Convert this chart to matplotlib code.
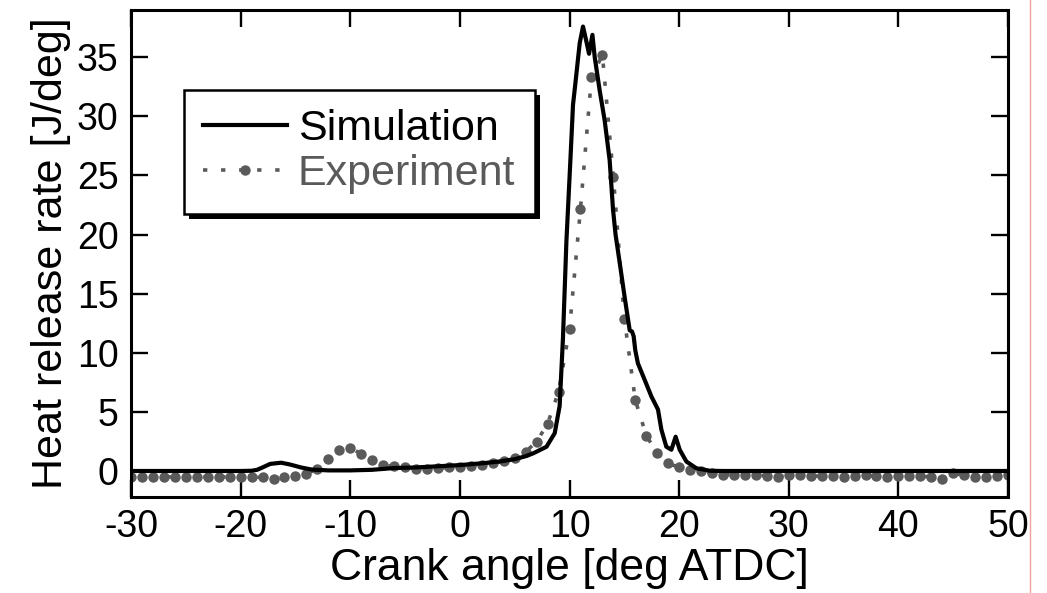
import numpy as np
import matplotlib
matplotlib.use("Agg")
import matplotlib.pyplot as plt
from matplotlib.lines import Line2D
from matplotlib.patches import Rectangle

plt.rcParams['font.family'] = ['Liberation Sans', 'DejaVu Sans']
plt.rcParams['axes.unicode_minus'] = False

# DATA
# simulation trace: crank angle [deg ATDC] vs heat release rate [J/deg]
sim_angle = [-30, -20, -19, -18.5, -18, -17.3, -16.3, -15.5, -14.5, -13.5,
             -12, -10, -8, -6, -4, -2, 0, 2, 3.6, 5, 6, 6.7, 7.9, 8.65,
             9.1, 9.4, 9.72, 10.08, 10.32, 10.5, 10.93, 11.23, 11.5, 11.78,
             12.09, 12.3, 12.75, 13.2, 13.66, 13.97, 14.2, 14.58, 15.03,
             15.49, 15.7, 15.85, 16.0, 16.24, 16.86, 17.47, 18.07, 18.38,
             18.83, 19.29, 19.68, 20.05, 20.66, 21.57, 22.8, 24, 50]
sim_hrr = [0, 0, 0.02, 0.1, 0.3, 0.6, 0.7, 0.55, 0.3, 0.12,
           0.05, 0.05, 0.1, 0.25, 0.3, 0.4, 0.5, 0.65, 0.8, 1.0, 1.25, 1.5, 2.05, 3.2,
           5.5, 11.2, 19.5, 26.3, 31.0, 32.5, 36.2, 37.6, 36.5, 35.3,
           36.9, 35.0, 32.2, 29.7, 26.3, 22.1, 20.0, 17.6, 14.7,
           11.9, 11.8, 11.4, 10.2, 9.1, 7.7, 6.3, 5.2, 3.5,
           2.05, 1.8, 2.9, 1.8, 0.8, 0.23, 0.02, 0, 0]

# experiment: one sample per degree from -30 to 50
exp_angle = list(range(-30, 51))
exp_hrr = [-0.5, -0.5, -0.55, -0.5, -0.5, -0.5, -0.55, -0.5, -0.5, -0.5, -0.55, -0.5,  # -30..-19
           -0.55, -0.7, -0.55, -0.42, -0.28, 0.2, 1.0, 1.8, 1.95, 1.45, 0.95,          # -18..-8
           0.5, 0.4, 0.3, 0.17, 0.17, 0.22, 0.3, 0.36, 0.45, 0.5, 0.65, 0.82, 1.1,     # -7..5
           1.63, 2.48, 4.0, 6.7, 12.0, 22.2, 33.3, 35.2, 24.9, 12.9, 6.0, 3.0, 1.5,    # 6..18
           0.65, 0.3, 0.12, 0.0, -0.2, -0.3, -0.35, -0.35, -0.35, -0.4, -0.5,          # 19..29
           -0.35, -0.3, -0.4, -0.45, -0.45, -0.5, -0.4, -0.35, -0.45, -0.5,            # 30..39
           -0.4, -0.4, -0.45, -0.5, -0.65, -0.2, -0.35, -0.5, -0.55, -0.4, -0.3]       # 40..50

x_ticks = [-30, -20, -10, 0, 10, 20, 30, 40, 50]
y_ticks = [0, 5, 10, 15, 20, 25, 30, 35]

GREY = '#5a5a5a'

fig = plt.figure(figsize=(10.47, 5.93), dpi=100)
ax = fig.add_axes([0.1251, 0.1619, 0.8377, 0.8212])

ax.plot(sim_angle, sim_hrr, color='black', lw=3.0, label='Simulation', zorder=3)
ax.plot(exp_angle, exp_hrr, color=GREY, lw=2.6, linestyle=(0, (1.2, 3.8)),
        marker='o', markersize=7.5, markeredgewidth=0, label='Experiment', zorder=2)

ax.set_xlim(-30, 50)
ax.set_ylim(-2.2, 39.0)
ax.set_xticks(x_ticks)
ax.set_yticks(y_ticks)
ax.tick_params(direction='in', top=True, right=True, length=12, width=1.7,
               labelsize=27, pad=9, colors='black')
for sp in ax.spines.values():
    sp.set_linewidth(2.2)

ax.set_xlabel('Crank angle [deg ATDC]', fontsize=32, labelpad=2)
ax.set_ylabel('Heat release rate [J/deg]', fontsize=31, labelpad=4)

leg = ax.legend(loc='upper left', bbox_to_anchor=(0.060, 0.836), borderaxespad=0,
                fontsize=31, frameon=True, fancybox=False, framealpha=1.0,
                handlelength=1.95, handletextpad=0.25, labelspacing=0.12,
                borderpad=0.45)
leg.get_frame().set_facecolor('white')
leg.get_frame().set_edgecolor('black')
leg.get_frame().set_linewidth(1.8)
leg.set_zorder(5)
leg.get_texts()[1].set_color(GREY)

# solid black drop shadow behind the legend box
fig.canvas.draw()
bb = leg.get_frame().get_window_extent().transformed(ax.transAxes.inverted())
ax.add_patch(Rectangle((bb.x0 + 5 / 877, bb.y0 - 5 / 487), bb.width, bb.height,
                       transform=ax.transAxes, facecolor='black', edgecolor='none',
                       zorder=4.5))

# thin red edge line seen at the right of the original scan
fig.add_artist(Line2D([1030 / 1047, 1030 / 1047], [0, 1], color='#f2a0a0', lw=1.0))

fig.savefig('out.png', dpi=100)
